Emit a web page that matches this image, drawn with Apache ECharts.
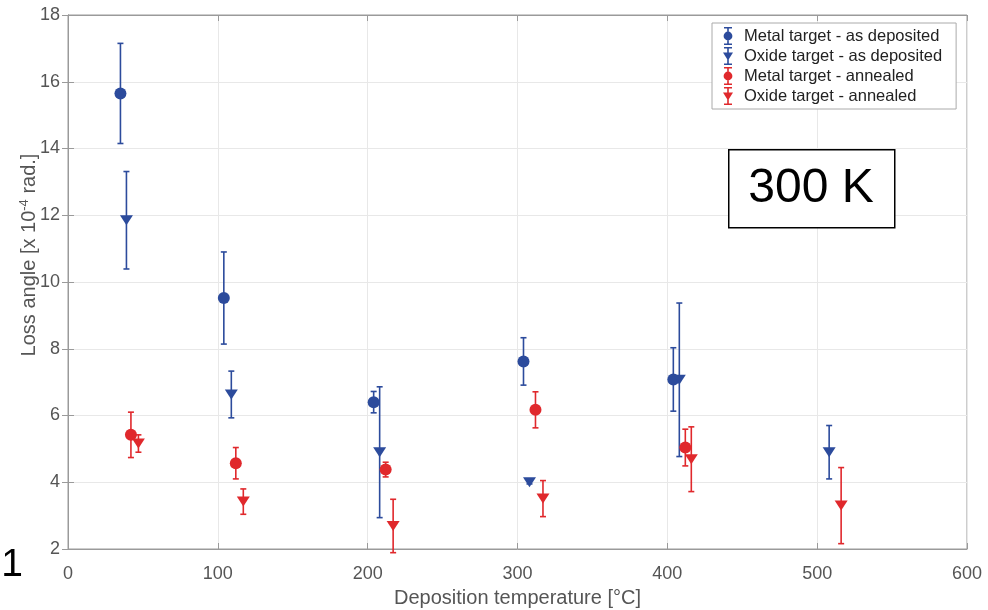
<!DOCTYPE html>
<html>
<head>
<meta charset="utf-8">
<script src="https://cdn.jsdelivr.net/npm/echarts@6/dist/echarts.min.js"></script>
<style>html,body{margin:0;padding:0;background:#fff}#c{width:988px;height:610px}</style>
</head>
<body>
<div id="c"></div>
<script>
// ---- Data ----
var seriesNames = ['Metal target - as deposited', 'Oxide target - as deposited', 'Metal target - annealed', 'Oxide target - annealed'];

var metalDepX   = [35, 104, 204, 304, 404];
var metalDepY   = [15.65, 9.52, 6.40, 7.62, 7.08];
var metalDepErr = [1.50, 1.38, 0.32, 0.71, 0.95];

var oxideDepX   = [39, 109, 208, 308, 408, 508];
var oxideDepY   = [11.85, 6.63, 4.90, 4.00, 7.07, 4.90];
var oxideDepErr = [1.46, 0.70, 1.96, 0.05, 2.30, 0.80];

var metalAnnX   = [42, 112, 212, 312, 412];
var metalAnnY   = [5.42, 4.57, 4.38, 6.17, 5.04];
var metalAnnErr = [0.68, 0.47, 0.22, 0.54, 0.55];

var oxideAnnX   = [47, 117, 217, 317, 416, 516];
var oxideAnnY   = [5.16, 3.42, 2.69, 3.51, 4.69, 3.30];
var oxideAnnErr = [0.26, 0.38, 0.80, 0.54, 0.97, 1.14];

var xTicks = [0, 100, 200, 300, 400, 500, 600];
var yTicks = [2, 4, 6, 8, 10, 12, 14, 16, 18];

// ---- Styling ----
var BLUE = '#2c4b9c';
var RED = '#e0282c';
var FONT = '"Liberation Sans", Arial, Helvetica, sans-serif';
var AXIS = '#9a9a9a';
var LABEL = '#555555';

function pts(xs, ys, es) {
  return xs.map(function (x, i) { return [x, ys[i], es[i]]; });
}

function errSeries(name, data, color) {
  return {
    type: 'custom', name: name, data: data, z: 3,
    encode: { x: 0, y: 1 },
    renderItem: function (params, api) {
      var x = api.value(0), y = api.value(1), e = api.value(2);
      var top = api.coord([x, y + e]);
      var bot = api.coord([x, y - e]);
      var w = 3;
      var st = { stroke: color, lineWidth: 1.6 };
      return {
        type: 'group',
        children: [
          { type: 'line', shape: { x1: top[0], y1: top[1], x2: bot[0], y2: bot[1] }, style: st },
          { type: 'line', shape: { x1: top[0] - w, y1: top[1], x2: top[0] + w, y2: top[1] }, style: st },
          { type: 'line', shape: { x1: bot[0] - w, y1: bot[1], x2: bot[0] + w, y2: bot[1] }, style: st }
        ]
      };
    }
  };
}

function markSeries(name, data, color, tri) {
  return {
    type: 'scatter', name: name, data: data, z: 4,
    symbol: tri ? 'triangle' : 'circle',
    symbolRotate: tri ? 180 : 0,
    symbolSize: tri ? [13, 10] : 12,
    itemStyle: { color: color, opacity: 1 },
    emphasis: { disabled: true }
  };
}

var iconCircle = 'path://M1,0L9,0L9,1.6L1,1.6Z M4.2,0L5.8,0L5.8,18L4.2,18Z M1,16.4L9,16.4L9,18L1,18Z M0.6,9A4.4,4.4 0 1,1 9.4,9A4.4,4.4 0 1,1 0.6,9Z';
var iconTri = 'path://M1,0L9,0L9,1.6L1,1.6Z M4.2,0L5.8,0L5.8,18L4.2,18Z M1,16.4L9,16.4L9,18L1,18Z M0,5.5L10,5.5L5,13.5Z';

var dMD = pts(metalDepX, metalDepY, metalDepErr);
var dOD = pts(oxideDepX, oxideDepY, oxideDepErr);
var dMA = pts(metalAnnX, metalAnnY, metalAnnErr);
var dOA = pts(oxideAnnX, oxideAnnY, oxideAnnErr);

var chart = echarts.init(document.getElementById('c'), null, { renderer: 'canvas' });

var option = {
  backgroundColor: '#ffffff',
  animation: false,
  textStyle: { fontFamily: FONT },
  grid: {
    left: 68, right: 21, top: 15, bottom: 61,
    containLabel: false, outerBoundsMode: 'none',
    show: true, borderColor: AXIS, borderWidth: 1, backgroundColor: 'transparent'
  },
  legend: {
    orient: 'vertical', left: 712, top: 23,
    padding: [4, 14, 4, 11], itemGap: 2,
    itemWidth: 10, itemHeight: 18,
    backgroundColor: '#fff', borderColor: '#aaaaaa', borderWidth: 1,
    textStyle: { fontFamily: FONT, fontSize: 16.5, color: '#222', padding: [0, 0, 0, 6] },
    data: [
      { name: seriesNames[0], icon: iconCircle, itemStyle: { color: BLUE } },
      { name: seriesNames[1], icon: iconTri, itemStyle: { color: BLUE } },
      { name: seriesNames[2], icon: iconCircle, itemStyle: { color: RED } },
      { name: seriesNames[3], icon: iconTri, itemStyle: { color: RED } }
    ],
    selectedMode: false
  },
  xAxis: [{
    type: 'value', min: xTicks[0], max: xTicks[xTicks.length - 1], interval: 100,
    name: 'Deposition temperature [°C]', nameLocation: 'middle', nameGap: 39, nameMoveOverlap: false,
    nameTextStyle: { fontFamily: FONT, fontSize: 20, color: LABEL },
    axisLine: { show: true, lineStyle: { color: AXIS } },
    axisTick: { show: true, inside: true, length: 6, lineStyle: { color: AXIS } },
    axisLabel: { fontFamily: FONT, fontSize: 18, color: LABEL, margin: 16 },
    splitLine: { show: true, lineStyle: { color: '#e8e8e8' } }
  }, {
    type: 'value', position: 'top', min: xTicks[0], max: xTicks[xTicks.length - 1], interval: 100,
    axisLine: { show: true, lineStyle: { color: AXIS } },
    axisTick: { show: true, inside: true, length: 6, lineStyle: { color: AXIS } },
    axisLabel: { show: false }, splitLine: { show: false }
  }],
  yAxis: [{
    type: 'value', min: yTicks[0], max: yTicks[yTicks.length - 1], interval: 2,
    name: 'Loss angle [x 10{sup|-4} rad.]', nameLocation: 'middle', nameGap: 27, nameRotate: 90, nameMoveOverlap: false,
    nameTextStyle: {
      fontFamily: FONT, fontSize: 20, color: LABEL, padding: [0, 0, 0, 54],
      rich: { sup: { fontFamily: FONT, fontSize: 13, color: LABEL, verticalAlign: 'top', padding: [0, 0, 10, 0] } }
    },
    axisLine: { show: true, lineStyle: { color: AXIS } },
    axisTick: { show: true, inside: true, length: 6, lineStyle: { color: AXIS } },
    axisLabel: { fontFamily: FONT, fontSize: 18, color: LABEL, margin: 8 },
    splitLine: { show: true, lineStyle: { color: '#e8e8e8' } }
  }, {
    type: 'value', position: 'right', min: yTicks[0], max: yTicks[yTicks.length - 1], interval: 2,
    axisLine: { show: true, lineStyle: { color: AXIS } },
    axisTick: { show: true, inside: true, length: 6, lineStyle: { color: AXIS } },
    axisLabel: { show: false }, splitLine: { show: false }
  }],
  series: [
    errSeries(seriesNames[0], dMD, BLUE), markSeries(seriesNames[0], dMD, BLUE, false),
    errSeries(seriesNames[1], dOD, BLUE), markSeries(seriesNames[1], dOD, BLUE, true),
    errSeries(seriesNames[2], dMA, RED),  markSeries(seriesNames[2], dMA, RED, false),
    errSeries(seriesNames[3], dOA, RED),  markSeries(seriesNames[3], dOA, RED, true)
  ],
  graphic: [
    {
      type: 'rect', left: 728, top: 149, z: 10,
      shape: { width: 166, height: 78 },
      style: { fill: '#fff', stroke: '#000', lineWidth: 1.5 }
    },
    {
      type: 'text', x: 811, y: 189, z: 11,
      style: { text: '300 K', fontFamily: FONT, fontSize: 48, fill: '#000', textAlign: 'center', textVerticalAlign: 'middle' }
    },
    {
      type: 'text', x: 23, y: 565, z: 11,
      style: { text: '01', fontFamily: FONT, fontSize: 39, fill: '#000', textAlign: 'right', textVerticalAlign: 'middle' }
    }
  ]
};

chart.setOption(option);
</script>
</body>
</html>
